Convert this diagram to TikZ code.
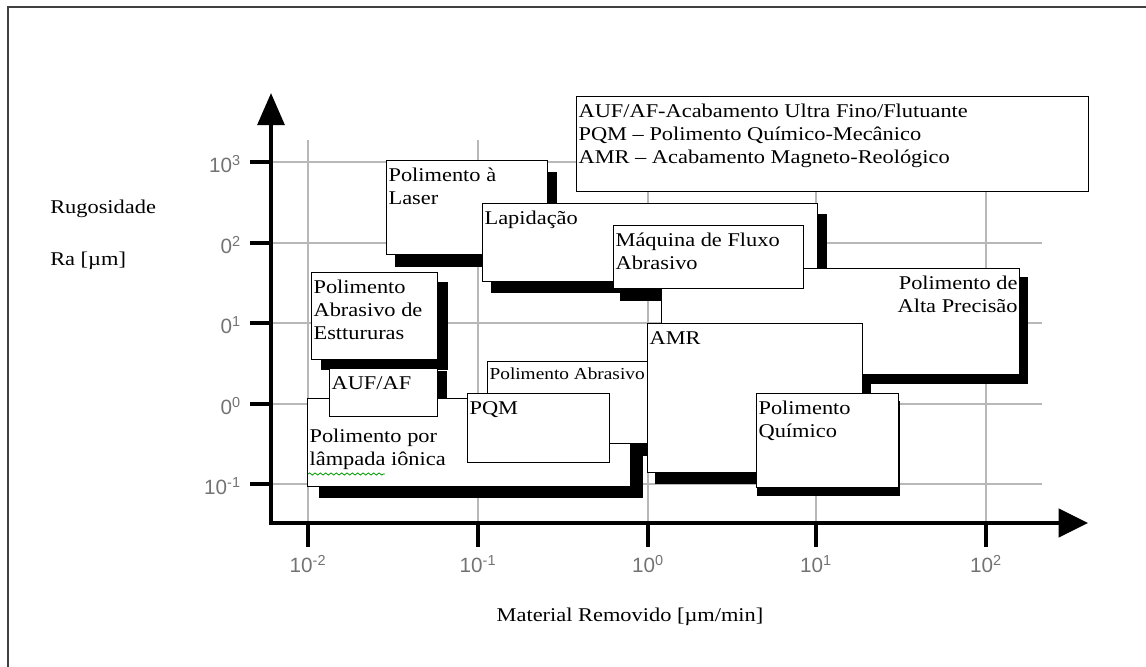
\documentclass[tikz,border=0pt]{standalone}
\usepackage{fontspec}
\setmainfont{Liberation Serif}[FakeStretch=1.15]
\newfontfamily\tickfont{Liberation Sans}
\usetikzlibrary{arrows.meta,decorations.pathmorphing}
\pgfdeclarelayer{grid}
\pgfdeclarelayer{shade}
\pgfsetlayers{grid,shade,main}
\newlength\pxu
\setlength\pxu{0.75pt}
\newcommand{\boxfont}{\fontsize{14.6}{17.6}\selectfont}
\newcommand{\smallboxfont}{\fontsize{12.6}{15}\selectfont}
\newcommand{\boxtxt}[4][\raggedright]{\parbox[t][#3\pxu][t]{#2\pxu}{#1\strut#4}}
\tikzset{
  rbox/.style={draw=black, fill=white, line width=0.9pt, anchor=north west,
    inner xsep=1.5pt, inner ysep=3pt, font=\boxfont},
  gridline/.style={draw=black!28, line width=1.3pt},
  axis/.style={line width=3pt,
    {Triangle[length=24pt,width=20pt]}-{Triangle[length=22pt,width=21pt]}},
  axtick/.style={line width=3pt},
  ticklabel/.style={font=\tickfont\fontsize{15.5}{16}\selectfont, text=black!55, inner sep=0pt},
  axtitle/.style={font=\boxfont, inner sep=0pt, anchor=base west},
  spell/.style={draw=green!60!black, line width=0.6pt, decorate,
    decoration={snake, segment length=4pt, amplitude=0.8pt}}
}

\begin{document}
\begin{tikzpicture}[x=0.75pt, y=-0.75pt]
\useasboundingbox (0,0) rectangle (1146,667);
\clip (0,0) rectangle (1146,667);
\draw[line width=1.2pt, black!75] (8,7) rectangle (1200,720);

\begin{pgfonlayer}{grid}
\foreach \x in {308,478,648,816,986}
  \draw[gridline] (\x,140) -- (\x,523);
\foreach \y in {162,243,323,404,484}
  \draw[gridline] (271,\y) -- (1042,\y);
\end{pgfonlayer}

\coordinate (O) at (271,523);
\coordinate (ytop) at (271,93);
\coordinate (xend) at (1088,523);
\draw[axis] (ytop) -- (O) -- (xend);

\foreach \y/\b/\e [count=\i] in {162/10/3, 243/0/2, 323/0/1, 404/0/0, 484/10/-1} {
  \draw[axtick] (250,\y) -- (271,\y);
  \node[ticklabel, anchor=base east] (ylab\i) at (241,\y+10) {\b\textsuperscript{\e}};
}
\foreach \x/\e [count=\i] in {308/-2, 478/-1, 648/0, 816/1, 986/2} {
  \draw[axtick] (\x,523) -- (\x,547);
  \node[ticklabel, anchor=base] (xlab\i) at (\x,572) {10\textsuperscript{\e}};
}

\node[axtitle] (rug) at (50,213) {Rugosidade};
\node[axtitle] (ra) at (50,265) {Ra [µm]};
\node[axtitle, anchor=base] (mat) at (630,621) {Material Removido [µm/min]};

\node[rbox] (legend) at (576,96) {\boxtxt{508}{87}{AUF/AF-Acabamento Ultra Fino/Flutuante\\PQM – Polimento Químico-Mecânico\\AMR – Acabamento Magneto-Reológico}};
\node[rbox] (laser) at (386,160) {\boxtxt{157}{86}{Polimento à\\Laser}};
\node[rbox] (lapid) at (482,203) {\boxtxt{331}{70}{Lapidação}};
\node[rbox] (alta) at (661,268) {\boxtxt[\raggedleft]{354}{98}{Polimento de\\Alta Precisão}};
\node[rbox] (fluxo) at (613,225) {\boxtxt{186}{55}{Máquina de Fluxo\\Abrasivo}};
\node[rbox] (estrut) at (311,272) {\boxtxt{122}{79}{Polimento\\Abrasivo de\\Esttururas}};
\node[rbox] (lampada) at (307,398) {\boxtxt{319}{80}{\mbox{}\\Polimento por\\lâmpada iônica}};
\node[rbox] (auf) at (329,368) {\boxtxt{104}{40}{AUF/AF}};
\node[rbox, font=\smallboxfont] (abras) at (487,361) {\boxtxt{161}{74}{Polimento Abrasivo}};
\node[rbox] (pqm) at (467,393) {\boxtxt{138}{61}{PQM}};
\node[rbox] (amr) at (647,323) {\boxtxt{211}{141}{AMR}};
\node[rbox] (quim) at (756,393) {\boxtxt{138}{86}{Polimento\\Químico}};

\draw[spell] ([shift={(1,76)}]lampada.north west) -- ++(77,0);

\begin{pgfonlayer}{shade}
\foreach \n/\dx/\dy in {laser/9/12, lapid/9/11, alta/8/9, fluxo/7/12, estrut/10/10,
    lampada/12/11, auf/9/3, abras/9/12, pqm/9/12, amr/8/11, quim/1/8}
  \fill[black] ([shift={(\dx,\dy)}]\n.north west) rectangle ([shift={(\dx,\dy)}]\n.south east);
\end{pgfonlayer}
\end{tikzpicture}
\end{document}
